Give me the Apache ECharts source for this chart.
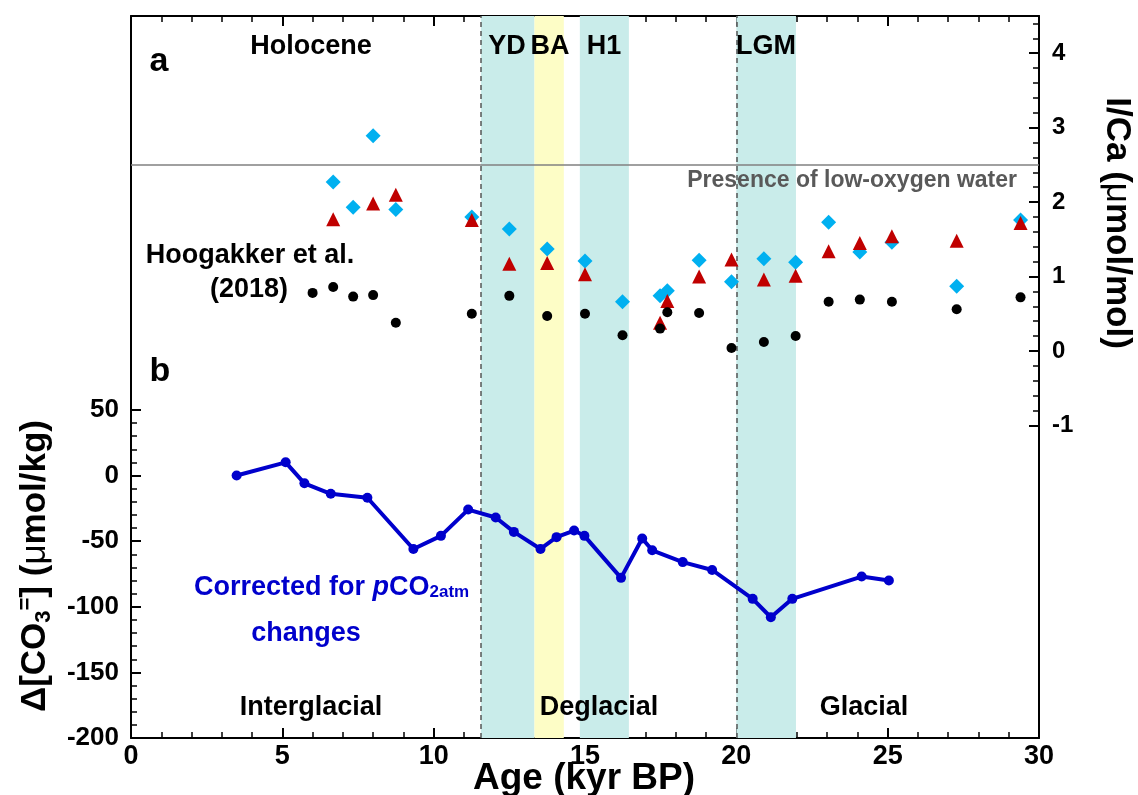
<!DOCTYPE html>
<html>
<head>
<meta charset="utf-8">
<script src="https://cdn.jsdelivr.net/npm/echarts@6/dist/echarts.min.js"></script>
<style>
  html, body { margin: 0; padding: 0; background: #fff; }
  #chart { width: 1138px; height: 795px; }
</style>
</head>
<body>
<div id="chart"></div>
<script>
// panel b: carbonate ion, corrected for pCO2atm
var lineAge = [3.49, 5.11, 5.73, 6.60, 7.81, 9.33, 10.24, 11.14, 12.05, 12.65, 13.53, 14.06, 14.64, 14.98, 16.19, 16.89, 17.22, 18.23, 19.20, 20.54, 21.14, 21.85, 24.14, 25.04];
var lineCO3 = [0, 10, -6, -14, -17, -56, -46, -26, -32, -43, -56, -47, -42, -46, -78, -48, -57, -66, -72, -94, -108, -94, -77, -80];

// panel a: I/Ca (umol/mol)
var diamondAge = [6.68, 7.34, 8.00, 8.75, 11.26, 12.50, 13.75, 15.00, 16.24, 17.48, 17.72, 18.77, 19.84, 20.91, 21.96, 23.05, 24.08, 25.14, 27.28, 29.39];
var diamondICa = [2.27, 1.93, 2.89, 1.90, 1.80, 1.64, 1.37, 1.21, 0.66, 0.74, 0.81, 1.22, 0.93, 1.24, 1.19, 1.73, 1.33, 1.46, 0.87, 1.76];
var triangleAge = [6.68, 8.00, 8.75, 11.26, 12.50, 13.75, 15.00, 17.48, 17.72, 18.77, 19.84, 20.91, 21.96, 23.05, 24.08, 25.14, 27.28, 29.39];
var triangleICa = [1.77, 1.98, 2.10, 1.76, 1.17, 1.18, 1.03, 0.38, 0.67, 1.00, 1.23, 0.96, 1.01, 1.34, 1.45, 1.54, 1.48, 1.72];
var hoogAge = [6.00, 6.68, 7.34, 8.00, 8.75, 11.26, 12.50, 13.75, 15.00, 16.24, 17.48, 17.72, 18.77, 19.84, 20.91, 21.96, 23.05, 24.08, 25.14, 27.28, 29.39];
var hoogICa = [0.78, 0.86, 0.73, 0.75, 0.38, 0.50, 0.74, 0.47, 0.50, 0.21, 0.30, 0.52, 0.51, 0.04, 0.12, 0.20, 0.66, 0.69, 0.66, 0.56, 0.72];

// climate intervals (kyr BP)
var bandFrom = [11.56, 13.33, 14.83, 20.0];
var bandTo = [13.33, 14.30, 16.45, 21.97];
var bandColor = ['#c9ecea', '#fdfdc6', '#c9ecea', '#c9ecea'];
var dashedAt = [11.56, 20.0];
var lowOxygen = 2.5;

function pairs(xs, ys) {
    var out = [];
    for (var i = 0; i < xs.length; i++) {
        out.push([xs[i], ys[i]]);
    }
    return out;
}

var FONT = '"Liberation Sans", Arial, sans-serif';
var G = { left: 131, right: 99, top: 16, bottom: 57 };

var areas = [];
for (var i = 0; i < bandFrom.length; i++) {
    areas.push([{ xAxis: bandFrom[i], itemStyle: { color: bandColor[i] } }, { xAxis: bandTo[i] }]);
}
var vlines = dashedAt.map(function (v) { return { xAxis: v }; });

function label(text, x, y, size, color, align) {
    return {
        type: 'text', x: x, y: y, z: 50, silent: true,
        style: {
            text: text, fill: color || '#000', align: align || 'center', verticalAlign: 'middle',
            font: 'bold ' + size + 'px ' + FONT
        }
    };
}

var black = { color: '#000', width: 2 };
var chart = echarts.init(document.getElementById('chart'), null, { renderer: 'canvas' });

var option = {
    backgroundColor: '#fff',
    animation: false,
    grid: [
        { left: G.left, right: G.right, top: G.top, bottom: G.bottom },
        // left tick range -200..50
        { left: G.left, right: G.right, top: 409.9, bottom: G.bottom },
        // right major ticks -1..4
        { left: G.left, right: G.right, top: 53.2, bottom: 795 - 425.4 },
        // right minor ticks -1..4.4
        { left: G.left, right: G.right, top: 23.4, bottom: 795 - 425.4 }
    ],
    xAxis: [
        {
            gridIndex: 0, type: 'value', position: 'bottom', min: 0, max: 30, interval: 5,
            axisLine: { show: true, onZero: false, lineStyle: black },
            axisTick: { show: true, inside: true, length: 10, lineStyle: black },
            minorTick: { show: true, splitNumber: 5, length: 6, lineStyle: { color: '#000', width: 1.5 } },
            axisLabel: { fontFamily: FONT, fontWeight: 'bold', fontSize: 27, color: '#000', margin: 5 },
            splitLine: { show: false }
        },
        {
            gridIndex: 0, type: 'value', position: 'top', min: 0, max: 30, interval: 5,
            axisLine: { show: true, onZero: false, lineStyle: black },
            axisTick: { show: true, inside: true, length: 10, lineStyle: black },
            minorTick: { show: true, splitNumber: 5, length: 6, lineStyle: { color: '#000', width: 1.5 } },
            axisLabel: { show: false },
            splitLine: { show: false }
        },
        { gridIndex: 1, type: 'value', min: 0, max: 30, show: false, axisLine: { onZero: false } },
        { gridIndex: 2, type: 'value', min: 0, max: 30, show: false, axisLine: { onZero: false } },
        { gridIndex: 3, type: 'value', min: 0, max: 30, show: false, axisLine: { onZero: false } }
    ],
    yAxis: [
        {
            gridIndex: 0, type: 'value', position: 'left', min: -200, max: 350,
            axisLine: { show: true, onZero: false, lineStyle: black },
            axisTick: { show: false }, axisLabel: { show: false }, splitLine: { show: false }
        },
        {
            gridIndex: 0, type: 'value', position: 'right', min: -5.2, max: 4.5,
            axisLine: { show: true, onZero: false, lineStyle: black },
            axisTick: { show: false }, axisLabel: { show: false }, splitLine: { show: false }
        },
        {
            gridIndex: 1, type: 'value', position: 'left', min: -200, max: 50, interval: 50,
            axisLine: { show: false, onZero: false },
            axisTick: { show: true, inside: true, length: 10, lineStyle: black },
            minorTick: { show: true, splitNumber: 5, length: 6, lineStyle: { color: '#000', width: 1.5 } },
            axisLabel: { fontFamily: FONT, fontWeight: 'bold', fontSize: 26, color: '#000', margin: 12 },
            splitLine: { show: false }
        },
        {
            gridIndex: 2, type: 'value', position: 'right', min: -1, max: 4, interval: 1,
            axisLine: { show: false, onZero: false },
            axisTick: { show: true, inside: true, length: 10, lineStyle: black },
            axisLabel: { fontFamily: FONT, fontWeight: 'bold', fontSize: 24, color: '#000', margin: 13 },
            splitLine: { show: false }
        },
        {
            gridIndex: 3, type: 'value', position: 'right', min: -1, max: 4.4, interval: 0.2,
            axisLine: { show: false, onZero: false },
            axisTick: { show: true, inside: true, length: 6, lineStyle: { color: '#000', width: 1.5 } },
            axisLabel: { show: false },
            splitLine: { show: false }
        }
    ],
    series: [
        {
            name: 'intervals', type: 'line', xAxisIndex: 0, yAxisIndex: 0, data: [], silent: true, z: 1,
            markArea: { silent: true, itemStyle: { opacity: 1 }, data: areas },
            markLine: {
                silent: true, symbol: 'none', label: { show: false },
                lineStyle: { color: '#555', type: [5, 4], width: 1.5 },
                data: vlines
            }
        },
        {
            name: 'low oxygen', type: 'line', xAxisIndex: 0, yAxisIndex: 1, data: [], silent: true, z: 2,
            markLine: {
                silent: true, symbol: 'none', label: { show: false },
                lineStyle: { color: '#808080', type: 'solid', width: 1.5 },
                data: [{ yAxis: lowOxygen }]
            }
        },
        {
            name: 'I/Ca diamonds', type: 'scatter', xAxisIndex: 0, yAxisIndex: 1, z: 5,
            symbol: 'diamond', symbolSize: 15, itemStyle: { color: '#00b0f0', opacity: 1 },
            data: pairs(diamondAge, diamondICa)
        },
        {
            name: 'I/Ca triangles', type: 'scatter', xAxisIndex: 0, yAxisIndex: 1, z: 6,
            symbol: 'triangle', symbolSize: 14, itemStyle: { color: '#c00000', opacity: 1 },
            data: pairs(triangleAge, triangleICa)
        },
        {
            name: 'Hoogakker et al. (2018)', type: 'scatter', xAxisIndex: 0, yAxisIndex: 1, z: 7,
            symbol: 'circle', symbolSize: 10, itemStyle: { color: '#000', opacity: 1 },
            data: pairs(hoogAge, hoogICa)
        },
        {
            name: 'Corrected', type: 'line', xAxisIndex: 0, yAxisIndex: 0, z: 8,
            symbol: 'circle', symbolSize: 10, showSymbol: true,
            lineStyle: { color: '#0000cc', width: 4 },
            itemStyle: { color: '#0000cc', opacity: 1 },
            data: pairs(lineAge, lineCO3)
        }
    ],
    graphic: [
        label('a', 159, 62, 34),
        label('b', 160, 372, 34),
        label('Holocene', 311, 47, 27),
        label('YD', 507, 47, 27),
        label('BA', 550, 47, 27),
        label('H1', 604, 47, 27),
        label('LGM', 766, 47, 27),
        label('Presence of low-oxygen water', 1017, 181, 23, '#595959', 'right'),
        label('Hoogakker et al.', 250, 256, 27),
        label('(2018)', 249, 290, 27),
        label('Interglacial', 311, 708, 27),
        label('Deglacial', 599, 708, 27),
        label('Glacial', 864, 708, 27),
        label('changes', 306, 634, 27, '#0000cc'),
        label('Age (kyr BP)', 584, 779, 37),
        {
            type: 'text', x: 194, y: 574, z: 50, silent: true,
            style: {
                text: '{n|Corrected for }{i|p}{n|CO}{s|2atm}',
                fill: '#0000cc', align: 'left', verticalAlign: 'top',
                rich: {
                    n: { font: 'bold 27px ' + FONT, fill: '#0000cc', lineHeight: 27, verticalAlign: 'top' },
                    i: { font: 'italic bold 27px ' + FONT, fill: '#0000cc', lineHeight: 27, verticalAlign: 'top' },
                    s: { font: 'bold 17px ' + FONT, fill: '#0000cc', lineHeight: 17, padding: [21, 0, 0, 0], verticalAlign: 'bottom' }
                }
            }
        },
        {
            type: 'text', x: 35, y: 566, rotation: Math.PI / 2, z: 50, silent: true,
            style: {
                text: '{n|Δ[CO}{s|3}{p|=}{n|] (}{m|μ}{n|mol/kg)}',
                fill: '#000', align: 'center', verticalAlign: 'middle',
                rich: {
                    n: { font: 'bold 35px ' + FONT, fill: '#000', lineHeight: 40, verticalAlign: 'middle' },
                    m: { font: '35px ' + FONT, fill: '#000', lineHeight: 40, verticalAlign: 'middle' },
                    s: { font: 'bold 22px ' + FONT, fill: '#000', lineHeight: 22, padding: [19, 0, 0, 0], verticalAlign: 'bottom' },
                    p: { font: 'bold 22px ' + FONT, fill: '#000', lineHeight: 22, padding: [0, 0, 19, 0], verticalAlign: 'top' }
                }
            }
        },
        {
            type: 'text', x: 1117, y: 223, rotation: -Math.PI / 2, z: 50, silent: true,
            style: {
                text: '{n|I/Ca (}{m|μ}{n|mol/mol)}',
                fill: '#000', align: 'center', verticalAlign: 'middle',
                rich: {
                    n: { font: 'bold 35px ' + FONT, fill: '#000' },
                    m: { font: '35px ' + FONT, fill: '#000' }
                }
            }
        }
    ]
};

chart.setOption(option);
</script>
</body>
</html>
